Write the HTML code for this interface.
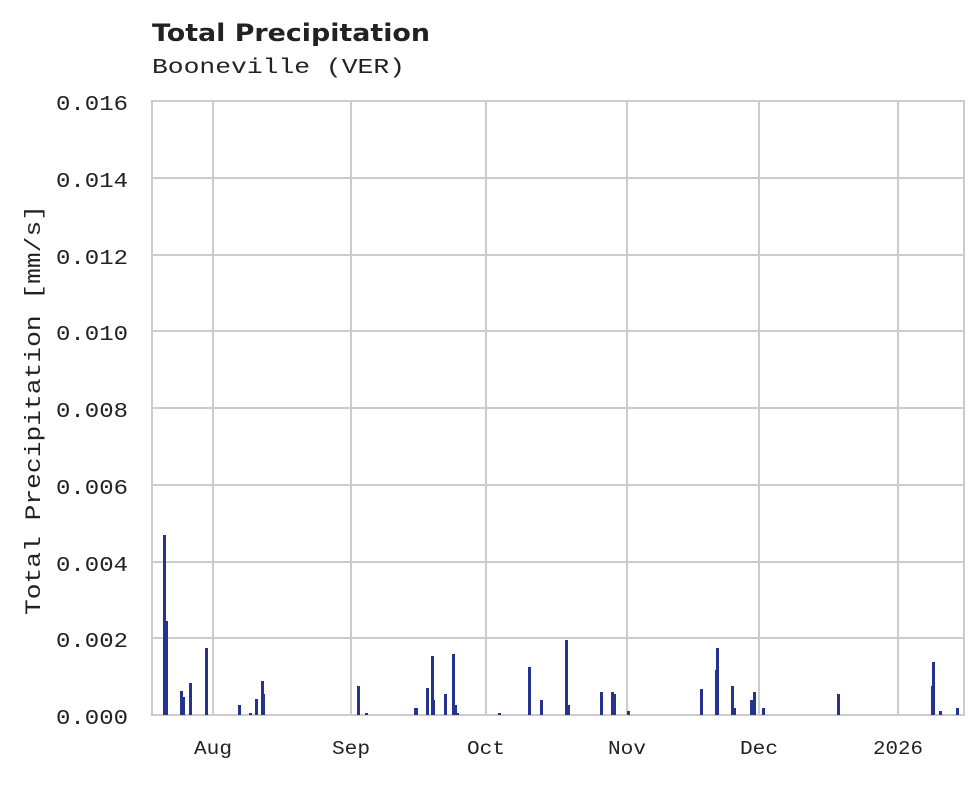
<!DOCTYPE html>
<html><head><meta charset="utf-8"><style>
body{margin:0;background:#fff;}
</style></head><body>
<svg width="980" height="780" xmlns="http://www.w3.org/2000/svg">
<rect width="980" height="780" fill="#fff"/>
<text x="152" y="41" font-family="DejaVu Sans, Liberation Sans, sans-serif" font-weight="bold" font-size="24" fill="#222" textLength="278" lengthAdjust="spacingAndGlyphs">Total Precipitation</text>
<text x="152" y="73" font-family="Liberation Mono, monospace" font-size="21" fill="#222" textLength="253" lengthAdjust="spacingAndGlyphs">Booneville (VER)</text>
<g stroke="#cccccc" stroke-width="2">
<line x1="152" y1="178" x2="964" y2="178"/><line x1="152" y1="255" x2="964" y2="255"/>
<line x1="152" y1="331" x2="964" y2="331"/><line x1="152" y1="408" x2="964" y2="408"/>
<line x1="152" y1="485" x2="964" y2="485"/><line x1="152" y1="562" x2="964" y2="562"/>
<line x1="152" y1="638" x2="964" y2="638"/>
<line x1="213" y1="101" x2="213" y2="715"/><line x1="351" y1="101" x2="351" y2="715"/>
<line x1="486" y1="101" x2="486" y2="715"/><line x1="627" y1="101" x2="627" y2="715"/>
<line x1="759" y1="101" x2="759" y2="715"/><line x1="898" y1="101" x2="898" y2="715"/>
</g>
<rect x="152" y="101" width="812" height="614" fill="none" stroke="#cccccc" stroke-width="2"/>
<g font-family="Liberation Mono, monospace" font-size="21" fill="#222">
<text x="56" y="110" textLength="72" lengthAdjust="spacingAndGlyphs">0.016</text>
<text x="56" y="187" textLength="72" lengthAdjust="spacingAndGlyphs">0.014</text>
<text x="56" y="264" textLength="72" lengthAdjust="spacingAndGlyphs">0.012</text>
<text x="56" y="340" textLength="72" lengthAdjust="spacingAndGlyphs">0.010</text>
<text x="56" y="417" textLength="72" lengthAdjust="spacingAndGlyphs">0.008</text>
<text x="56" y="494" textLength="72" lengthAdjust="spacingAndGlyphs">0.006</text>
<text x="56" y="571" textLength="72" lengthAdjust="spacingAndGlyphs">0.004</text>
<text x="56" y="647" textLength="72" lengthAdjust="spacingAndGlyphs">0.002</text>
<text x="56" y="724" textLength="72" lengthAdjust="spacingAndGlyphs">0.000</text>
</g>
<g font-family="Liberation Mono, monospace" font-size="19" fill="#222">
<text x="194" y="754" textLength="38" lengthAdjust="spacingAndGlyphs">Aug</text>
<text x="332" y="754" textLength="38" lengthAdjust="spacingAndGlyphs">Sep</text>
<text x="467" y="754" textLength="38" lengthAdjust="spacingAndGlyphs">Oct</text>
<text x="608" y="754" textLength="38" lengthAdjust="spacingAndGlyphs">Nov</text>
<text x="740" y="754" textLength="38" lengthAdjust="spacingAndGlyphs">Dec</text>
<text x="873" y="754" textLength="50" lengthAdjust="spacingAndGlyphs">2026</text>
</g>
<text transform="translate(40,615) rotate(-90)" font-family="Liberation Mono, monospace" font-size="22" fill="#222" textLength="410" lengthAdjust="spacingAndGlyphs">Total Precipitation [mm/s]</text>
<g fill="#25338f">
<rect x="163" y="535" width="3" height="180"/><rect x="165" y="621" width="3" height="94"/>
<rect x="180" y="691" width="3" height="24"/><rect x="182" y="697" width="3" height="18"/>
<rect x="189" y="683" width="3" height="32"/><rect x="205" y="648" width="3" height="67"/>
<rect x="238" y="705" width="3" height="10"/><rect x="249" y="713" width="3" height="2"/>
<rect x="255" y="699" width="3" height="16"/><rect x="261" y="681" width="3" height="34"/>
<rect x="263" y="694" width="2" height="21"/><rect x="357" y="686" width="3" height="29"/>
<rect x="365" y="713" width="3" height="2"/><rect x="414" y="708" width="4" height="7"/>
<rect x="426" y="688" width="3" height="27"/><rect x="431" y="656" width="3" height="59"/>
<rect x="433" y="700" width="2" height="15"/><rect x="444" y="694" width="3" height="21"/>
<rect x="452" y="654" width="3" height="61"/><rect x="454" y="705" width="3" height="10"/>
<rect x="456" y="713" width="3" height="2"/><rect x="498" y="713" width="3" height="2"/>
<rect x="528" y="667" width="3" height="48"/><rect x="540" y="700" width="3" height="15"/>
<rect x="565" y="640" width="3" height="75"/><rect x="567" y="705" width="3" height="10"/>
<rect x="600" y="692" width="3" height="23"/><rect x="611" y="692" width="3" height="23"/>
<rect x="613" y="694" width="3" height="21"/><rect x="627" y="711" width="3" height="4"/>
<rect x="700" y="689" width="3" height="26"/><rect x="715" y="670" width="2" height="45"/>
<rect x="716" y="648" width="3" height="67"/><rect x="731" y="686" width="3" height="29"/>
<rect x="733" y="708" width="3" height="7"/><rect x="750" y="700" width="3" height="15"/>
<rect x="753" y="692" width="3" height="23"/><rect x="762" y="708" width="3" height="7"/>
<rect x="837" y="694" width="3" height="21"/><rect x="931" y="686" width="2" height="29"/>
<rect x="932" y="662" width="3" height="53"/><rect x="939" y="711" width="3" height="4"/>
<rect x="956" y="708" width="3" height="7"/>
</g>
</svg>
</body></html>
